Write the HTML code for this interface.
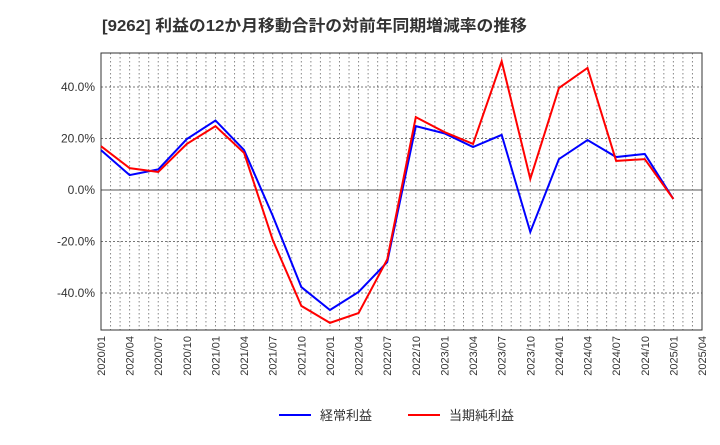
<!DOCTYPE html>
<html><head><meta charset="utf-8"><style>
body{margin:0;background:#fff;font-family:"Liberation Sans","Noto Sans CJK JP",sans-serif;}
svg text{font-family:"Liberation Sans","Noto Sans CJK JP",sans-serif;}
</style></head><body>
<svg id="c" width="720" height="440" xmlns="http://www.w3.org/2000/svg">
<text x="102" y="31" font-size="16" font-weight="bold" fill="#333" textLength="425" lengthAdjust="spacingAndGlyphs">[9262]  利益の12か月移動合計の対前年同期増減率の推移</text>
<g id="grid"></g><g id="axes"></g><g id="series"></g>
<g>
<line x1="279" y1="415" x2="311" y2="415" stroke="#0000ff" stroke-width="2"/>
<text x="320" y="420" font-size="13" fill="#333">経常利益</text>
<line x1="408" y1="415" x2="440" y2="415" stroke="#ff0000" stroke-width="2"/>
<text x="449" y="420" font-size="13" fill="#333">当期純利益</text>
</g>
</svg>
<script>
const xLabels=["2020/01","2020/04","2020/07","2020/10","2021/01","2021/04","2021/07","2021/10","2022/01","2022/04","2022/07","2022/10","2023/01","2023/04","2023/07","2023/10","2024/01","2024/04","2024/07","2024/10","2025/01","2025/04"];
const yTicks=[-40,-20,0,20,40];
const ordinary=[15.5,5.8,8,19.8,27,15.5,-10,-37.7,-46.6,-39.6,-28,24.8,22,16.7,21.4,-16.3,12,19.4,12.8,14,-3.5];
const netIncome=[17,8.5,7,17.9,24.8,14.4,-19.4,-45,-51.6,-47.8,-27,28.3,22.5,17.9,50,4.3,39.6,47.4,11.3,12,-3.5];
const L=101,R=702,T=53,B=330;
const nQ=xLabels.length-1;
const xs=i=>L+(R-L)*i/nQ;
const ys=v=>190-v*2.575;
const ns="http://www.w3.org/2000/svg";
function mk(tag,attrs,parent){const e=document.createElementNS(ns,tag);for(const k in attrs)e.setAttribute(k,attrs[k]);parent.appendChild(e);return e;}
const grid=document.getElementById('grid'),axes=document.getElementById('axes'),ser=document.getElementById('series');
for(let m=1;m<nQ*3;m++){const x=L+(R-L)*m/(nQ*3);
const g=mk('line',{x1:x,x2:x,y1:T,y2:B,stroke:'#888','stroke-dasharray':'1.5,2.5','stroke-width':1},grid);

}
yTicks.forEach(v=>{const y=ys(v);
const g=mk('line',{x1:L,x2:R,y1:y,y2:y,stroke:v===0?'#555':'#777','stroke-dasharray':v===0?'none':'2,2','stroke-width':1},grid);


const t=mk('text',{x:L-6,y:y+4,'font-size':12,'text-anchor':'end',fill:'#333'},axes);t.textContent=v.toFixed(1)+'%';

});
const fr=mk('rect',{x:L,y:T,width:R-L,height:B-T,fill:'none',stroke:'#333'},axes);


xLabels.forEach((l,i)=>{const x=xs(i);
const t=mk('text',{x:0,y:0,'font-size':11,'text-anchor':'end',fill:'#333',transform:`translate(${x+4},${B+6}) rotate(-90)`},axes);t.textContent=l;

});
function line(d,c,name){const p=mk('polyline',{points:d.map((v,i)=>xs(i)+','+ys(v)).join(' '),fill:'none',stroke:c,'stroke-width':2},ser);

}
line(ordinary,'#0000ff','ordinary-profit-line');
line(netIncome,'#ff0000','net-income-line');
</script>
</body></html>
